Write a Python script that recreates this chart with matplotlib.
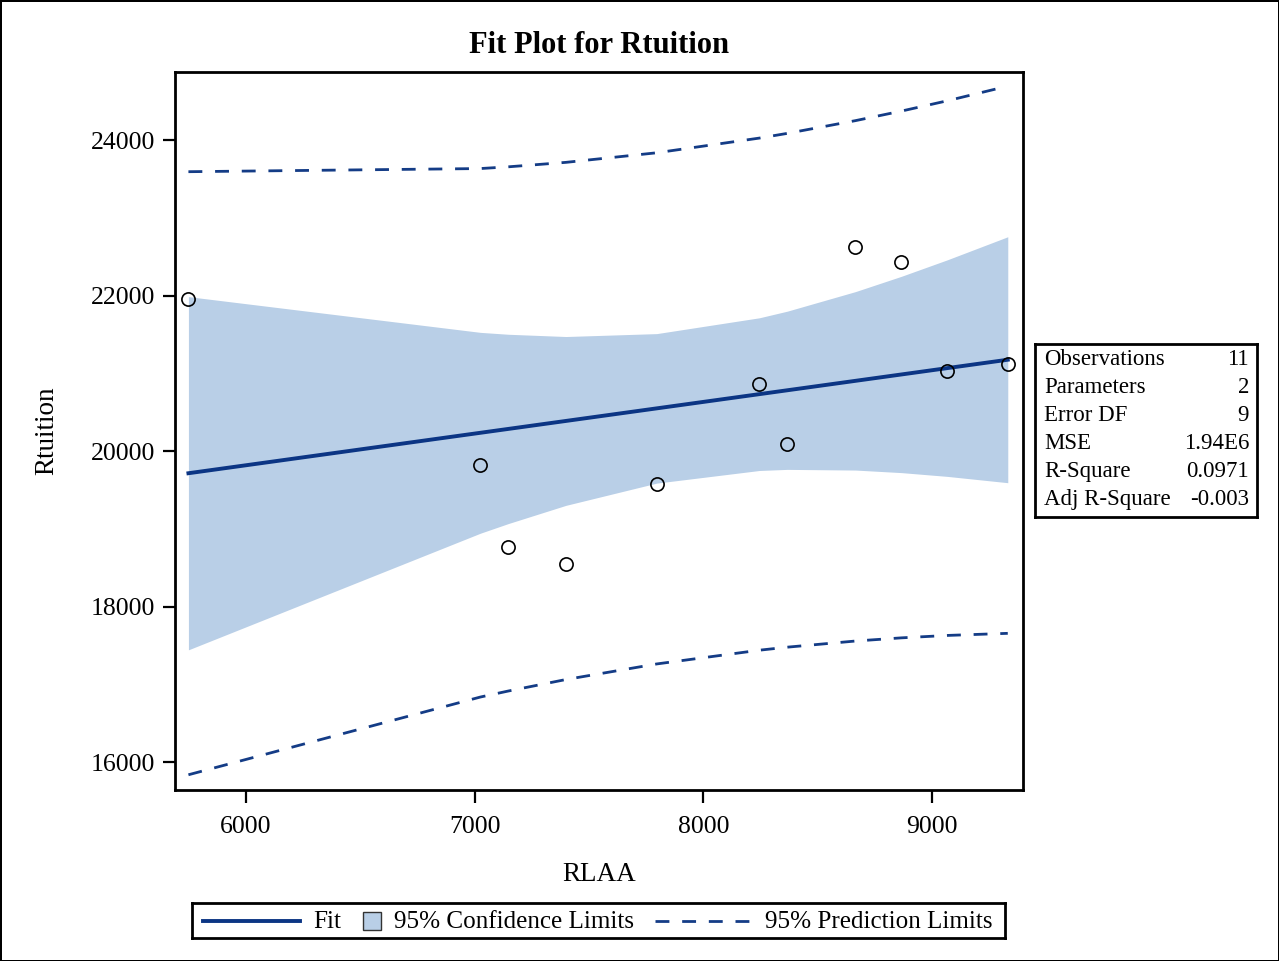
import numpy as np
import matplotlib
matplotlib.use("Agg")
import matplotlib.pyplot as plt
from matplotlib.patches import Rectangle

plt.rcParams['font.family'] = ['Liberation Serif', 'DejaVu Serif']

# observations
rlaa = [5748, 7025, 7147, 7399, 7796, 8245, 8367, 8665, 8866, 9067, 9331]
rtuition = [21958, 19817, 18766, 18552, 19577, 20860, 20088, 22627, 22426, 21023, 21117]

x_ticks = [6000, 7000, 8000, 9000]
y_ticks = [16000, 18000, 20000, 22000, 24000]

stat_names = ['Observations', 'Parameters', 'Error DF', 'MSE', 'R-Square', 'Adj R-Square']
stat_values = ['11', '2', '9', '1.94E6', '0.0971', '-0.003']

fit_color = '#0B3584'
clm_color = '#B9CFE7'
pred_color = '#143C86'
t_crit = 2.262157  # t(0.975, 9)

# simple linear regression with confidence / prediction limits
x = np.array(rlaa, dtype=float)
y = np.array(rtuition, dtype=float)
n = len(x)
slope, intercept = np.polyfit(x, y, 1)
resid = y - (intercept + slope * x)
mse = np.sum(resid ** 2) / (n - 2)
sxx = np.sum((x - x.mean()) ** 2)

xs = np.sort(x)
yfit = intercept + slope * xs
se_mean = np.sqrt(mse * (1 / n + (xs - x.mean()) ** 2 / sxx))
se_pred = np.sqrt(mse * (1 + 1 / n + (xs - x.mean()) ** 2 / sxx))

fig = plt.figure(figsize=(12.79, 9.61), dpi=100)
fig.patch.set_edgecolor('black')
fig.patch.set_linewidth(2)

ax = fig.add_axes([0.1366, 0.1779, 0.6635, 0.7472])
ax.fill_between(xs, yfit - t_crit * se_mean, yfit + t_crit * se_mean,
                color=clm_color, lw=0, zorder=1)
ax.plot(xs, yfit, color=fit_color, lw=2.8, zorder=3)
ax.plot(xs, yfit - t_crit * se_pred, color=pred_color, lw=2, dashes=(5, 4.6), zorder=2)
ax.plot(xs, yfit + t_crit * se_pred, color=pred_color, lw=2, dashes=(5, 4.6), zorder=2)
ax.plot(x, y, 'o', ms=9.5, mfc='none', mec='black', mew=1.2, zorder=4)

ax.set_xlim(5688, 9399)
ax.set_ylim(15640, 24875)
ax.set_xticks(x_ticks)
ax.set_yticks(y_ticks)
ax.tick_params(labelsize=18.5, length=9, width=1.6, direction='out')
ax.tick_params(axis='x', pad=10)
ax.tick_params(axis='y', pad=5)
for sp in ax.spines.values():
    sp.set_linewidth(2)
ax.set_xlabel('RLAA', fontsize=19.5, labelpad=17)
ax.set_ylabel('Rtuition', fontsize=19.5, labelpad=23)
ax.set_title('Fit Plot for Rtuition', fontsize=22, fontweight='bold', pad=14)

# statistics box
W, H = 1279, 961
sx0, sy0, sx1, sy1 = 1035, 344, 1257, 517
sbox = fig.add_axes([sx0 / W, 1 - sy1 / H, (sx1 - sx0) / W, (sy1 - sy0) / H])
sbox.set_xlim(sx0, sx1)
sbox.set_ylim(sy1, sy0)
sbox.set_xticks([])
sbox.set_yticks([])
for sp in sbox.spines.values():
    sp.set_linewidth(2)
for i, (name, val) in enumerate(zip(stat_names, stat_values)):
    yy = 360 + 28 * i
    sbox.text(1044, yy, name, fontsize=16.5, va='center', ha='left')
    sbox.text(1249, yy, val, fontsize=16.5, va='center', ha='right')

# legend box
lx0, ly0, lx1, ly1 = 192, 903, 1005, 938
leg = fig.add_axes([lx0 / W, 1 - ly1 / H, (lx1 - lx0) / W, (ly1 - ly0) / H])
leg.set_xlim(lx0, lx1)
leg.set_ylim(ly1, ly0)
leg.set_xticks([])
leg.set_yticks([])
for sp in leg.spines.values():
    sp.set_linewidth(2)
ym = 920.5
leg.plot([203, 300], [ym, ym], color=fit_color, lw=2.8)
leg.text(313, ym + 1, 'Fit', fontsize=18.1, va='center', ha='left')
leg.add_patch(Rectangle((363, ym - 9), 18, 18, facecolor=clm_color, edgecolor='#333333', lw=1))
leg.text(394, ym + 1, '95% Confidence Limits', fontsize=18.1, va='center', ha='left')
leg.plot([655, 750], [ym, ym], color=pred_color, lw=2, dashes=(5, 4.6))
leg.text(765, ym + 1, '95% Prediction Limits', fontsize=18.1, va='center', ha='left')

fig.savefig('out.png', dpi=100, edgecolor=fig.get_edgecolor())
